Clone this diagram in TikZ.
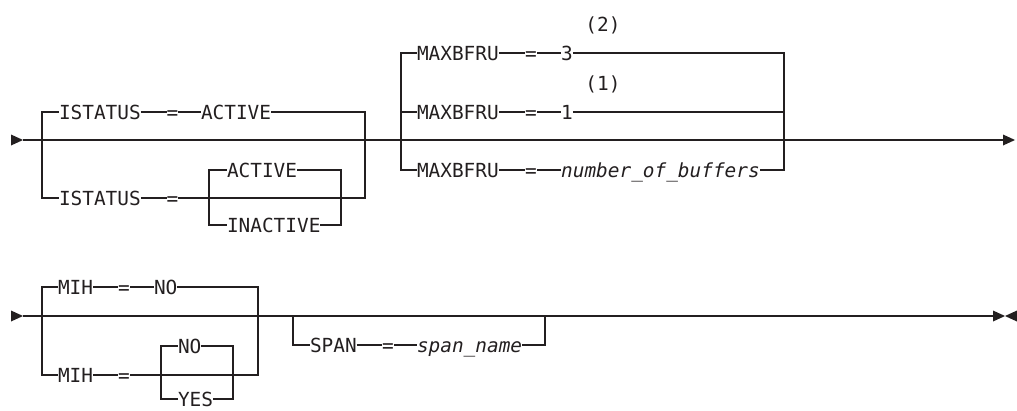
\documentclass[tikz,border=0pt]{standalone}
\usepackage{fontspec}
\newfontfamily\dm{DejaVu Sans Mono}
\definecolor{ink}{RGB}{35,31,32}
\tikzset{
  rail/.style={draw=ink, line width=1.25pt},
  tok/.style={inner sep=0pt, outer sep=0pt, anchor=west, text height=14pt, text depth=0pt, text=ink, font=\dm\fontsize{19.4}{20}\selectfont},
  var/.style={tok, font=\dm\itshape\fontsize{19.4}{20}\selectfont},
  note/.style={tok, anchor=center},
}
\begin{document}
\begin{tikzpicture}[x=1pt,y=-1pt]
\useasboundingbox (0,0) rectangle (1017,410);
% ---------------- Row 1 ----------------
\coordinate (s1) at (11,140);
\coordinate (m1a) at (23,140);
\coordinate (m1b) at (1003,140);
\coordinate (e1) at (1015,140);
\fill[ink] (s1) ++(0,-5.5) -- (m1a) -- ++(-12,5.5) -- cycle;
\fill[ink] (m1b) ++(0,-5.5) -- (e1) -- ++(-12,5.5) -- cycle;
\draw[rail] (m1a) -- (m1b);
% ISTATUS group
\node[tok] (istA) at (59,112) {ISTATUS};
\node[tok] (eqA) at (166.7,112) {=};
\node[tok] (actA) at (201,112) {ACTIVE};
\node[tok] (istB) at (59,198) {ISTATUS};
\node[tok] (eqB) at (166.7,198) {=};
\node[tok] (actC) at (227,170) {ACTIVE};
\node[tok] (inactC) at (227,225) {INACTIVE};
\coordinate (g1l) at (42,140);
\coordinate (g1r) at (365,140);
\coordinate (i1l) at (209,198);
\coordinate (i1r) at (341,198);
\draw[rail] (g1l) |- (istA.west) (istA.east) -- (eqA.west) (eqA.east) -- (actA.west) (actA.east) -| (g1r);
\draw[rail] (g1l) |- (istB.west) (istB.east) -- (eqB.west) (eqB.east) -| (g1r);
\draw[rail] (i1l) |- (actC.west) (actC.east) -| (i1r);
\draw[rail] (i1l) |- (inactC.west) (inactC.east) -| (i1r);
% MAXBFRU group
\node[tok] (mx1) at (417,53) {MAXBFRU};
\node[tok] (eq1) at (525.2,53) {=};
\node[tok] (v3) at (561.2,53) {3};
\node[tok] (mx2) at (417,112) {MAXBFRU};
\node[tok] (eq2) at (525.2,112) {=};
\node[tok] (v1) at (561.2,112) {1};
\node[tok] (mx3) at (417,170) {MAXBFRU};
\node[tok] (eq3) at (525.2,170) {=};
\node[var] (nob) at (561.2,170) {number\_of\_buffers};
\node[note] (fn2) at (603,24) {(2)};
\node[note] (fn1) at (603,83) {(1)};
\coordinate (g2l) at (401,140);
\coordinate (g2r) at (784,140);
\draw[rail] (g2l) |- (mx1.west) (mx1.east) -- (eq1.west) (eq1.east) -- (v3.west) (v3.east) -| (g2r);
\draw[rail] (g2l) |- (mx2.west) (mx2.east) -- (eq2.west) (eq2.east) -- (v1.west) (v1.east) -| (g2r);
\draw[rail] (g2l) |- (mx3.west) (mx3.east) -- (eq3.west) (eq3.east) -- (nob.west) (nob.east) -| (g2r);
% ---------------- Row 2 ----------------
\coordinate (s2) at (11,316);
\coordinate (m2a) at (23,316);
\coordinate (m2b) at (993,316);
\coordinate (mid2) at (1005,316);
\coordinate (e2) at (1017,316);
\fill[ink] (s2) ++(0,-5.5) -- (m2a) -- ++(-12,5.5) -- cycle;
\fill[ink] (m2b) ++(0,-5.5) -- (mid2) -- ++(-12,5.5) -- cycle;
\fill[ink] (e2) ++(0,-5.5) -- (mid2) -- ++(12,5.5) -- cycle;
\draw[rail] (m2a) -- (m2b);
% MIH group
\node[tok] (mihA) at (58,287) {MIH};
\node[tok] (eqC) at (118.2,287) {=};
\node[tok] (noA) at (154,287) {NO};
\node[tok] (mihB) at (58,375) {MIH};
\node[tok] (eqD) at (118.2,375) {=};
\node[tok] (noB) at (178,346) {NO};
\node[tok] (yesB) at (178,399) {YES};
\coordinate (g3l) at (42,316);
\coordinate (g3r) at (258,316);
\coordinate (i2l) at (161,375);
\coordinate (i2r) at (233,375);
\draw[rail] (g3l) |- (mihA.west) (mihA.east) -- (eqC.west) (eqC.east) -- (noA.west) (noA.east) -| (g3r);
\draw[rail] (g3l) |- (mihB.west) (mihB.east) -- (eqD.west) (eqD.east) -| (g3r);
\draw[rail] (i2l) |- (noB.west) (noB.east) -| (i2r);
\draw[rail] (i2l) |- (yesB.west) (yesB.east) -| (i2r);
% SPAN group
\node[tok] (spanN) at (310,345) {SPAN};
\node[tok] (eqE) at (382.2,345) {=};
\node[var] (spn) at (417,345) {span\_name};
\coordinate (g4l) at (293,316);
\coordinate (g4r) at (545,316);
\draw[rail] (g4l) |- (spanN.west) (spanN.east) -- (eqE.west) (eqE.east) -- (spn.west) (spn.east) -| (g4r);
\end{tikzpicture}
\end{document}
